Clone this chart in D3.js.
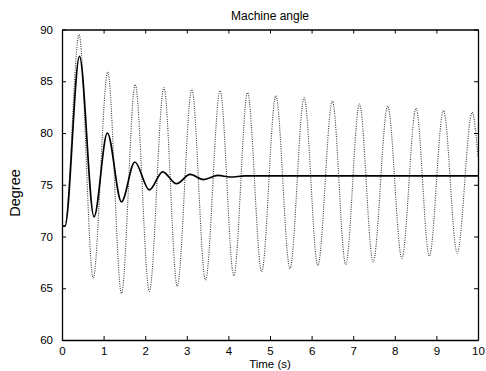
<!DOCTYPE html>
<html>
<head>
<meta charset="utf-8">
<script src="https://cdn.jsdelivr.net/npm/d3@7"></script>
<style>
  html, body { margin: 0; padding: 0; background: #fff; }
  svg { display: block; }
  text { font-family: "Liberation Sans", Arial, Helvetica, sans-serif; fill: #000; }
</style>
</head>
<body>
<svg id="chart" width="486" height="371"></svg>
<script>
// Rotor angle response: turning points of each trace (time in s, angle in degrees)
const tControlled = [0, 0.07, 0.42, 0.77, 1.09, 1.43, 1.75, 2.10, 2.42, 2.75, 3.08, 3.40, 3.75, 4.05, 4.40, 10];
const angleControlled = [71, 71, 87.4, 71.9, 80.0, 73.35, 77.2, 74.5, 76.25, 75.1, 76.0, 75.5, 75.9, 75.75, 75.85, 75.85];

const tUncontrolled = [0, 0.07, 0.41, 0.75, 1.10, 1.43, 1.76, 2.10, 2.45, 2.77, 3.12, 3.45, 3.80, 4.13, 4.46, 4.80,
  5.14, 5.48, 5.82, 6.15, 6.50, 6.82, 7.15, 7.48, 7.83, 8.17, 8.51, 8.83, 9.17, 9.50, 9.86, 10];
const angleUncontrolled = [71, 71, 89.5, 66.0, 85.9, 64.5, 84.7, 64.7, 84.4, 65.2, 84.2, 65.8, 84.1, 66.2, 83.9, 66.6,
  83.6, 66.9, 83.4, 67.2, 83.1, 67.3, 82.8, 67.55, 82.6, 67.9, 82.4, 68.1, 82.2, 68.4, 82.0, 77.6];

const xTicks = [0, 1, 2, 3, 4, 5, 6, 7, 8, 9, 10];
const yTicks = [60, 65, 70, 75, 80, 85, 90];

const svg = d3.select("#chart");
const plotLeft = 62, plotRight = 478, plotTop = 29.5, plotBottom = 340;

const x = d3.scaleLinear().domain([0, 10]).range([plotLeft, plotRight]);
const y = d3.scaleLinear().domain([60, 90]).range([plotBottom, plotTop]);

const plot = svg.append("g");

// Traces
const line = d3.line().x(d => x(d[0])).y(d => y(d[1])).curve(d3.curveMonotoneX);

plot.append("path")
  .datum(d3.zip(tUncontrolled, angleUncontrolled))
  .attr("d", line)
  .attr("fill", "none")
  .attr("stroke", "#3a3a3a")
  .attr("stroke-width", 1.1)
  .attr("stroke-dasharray", "1,1.3");

plot.append("path")
  .datum(d3.zip(tControlled, angleControlled))
  .attr("d", line)
  .attr("fill", "none")
  .attr("stroke", "#000")
  .attr("stroke-width", 1.7);

// Axes box with inward ticks on all four sides
const tickLen = 4;
const axisFont = "11.5px";

const bottomAxis = svg.append("g").attr("transform", `translate(0,${plotBottom})`)
  .call(d3.axisBottom(x).tickValues(xTicks).tickFormat(d3.format("d")).tickSizeInner(-tickLen).tickSizeOuter(0).tickPadding(7));
const topAxis = svg.append("g").attr("transform", `translate(0,${plotTop})`)
  .call(d3.axisTop(x).tickValues(xTicks).tickFormat("").tickSizeInner(-tickLen).tickSizeOuter(0));
const leftAxis = svg.append("g").attr("transform", `translate(${plotLeft},0)`)
  .call(d3.axisLeft(y).tickValues(yTicks).tickFormat(d3.format("d")).tickSizeInner(-tickLen).tickSizeOuter(0).tickPadding(9));
const rightAxis = svg.append("g").attr("transform", `translate(${plotRight},0)`)
  .call(d3.axisRight(y).tickValues(yTicks).tickFormat("").tickSizeInner(-tickLen).tickSizeOuter(0));

[bottomAxis, topAxis, leftAxis, rightAxis].forEach(g => {
  g.select(".domain").attr("stroke", "#000").attr("stroke-width", 1.3);
  g.selectAll(".tick line").attr("stroke", "#000").attr("stroke-width", 1);
  g.selectAll("text").attr("font-size", axisFont).attr("font-family", null).attr("fill", "#000");
});

// Titles
svg.append("text")
  .attr("x", 270).attr("y", 19.5)
  .attr("text-anchor", "middle")
  .attr("font-size", "12px")
  .text("Machine angle");

svg.append("text")
  .attr("x", 270).attr("y", 368.2)
  .attr("text-anchor", "middle")
  .attr("font-size", "11.5px")
  .text("Time (s)");

svg.append("text")
  .attr("transform", "translate(20,193) rotate(-90)")
  .attr("text-anchor", "middle")
  .attr("font-size", "14.5px")
  .text("Degree");
</script>
</body>
</html>
